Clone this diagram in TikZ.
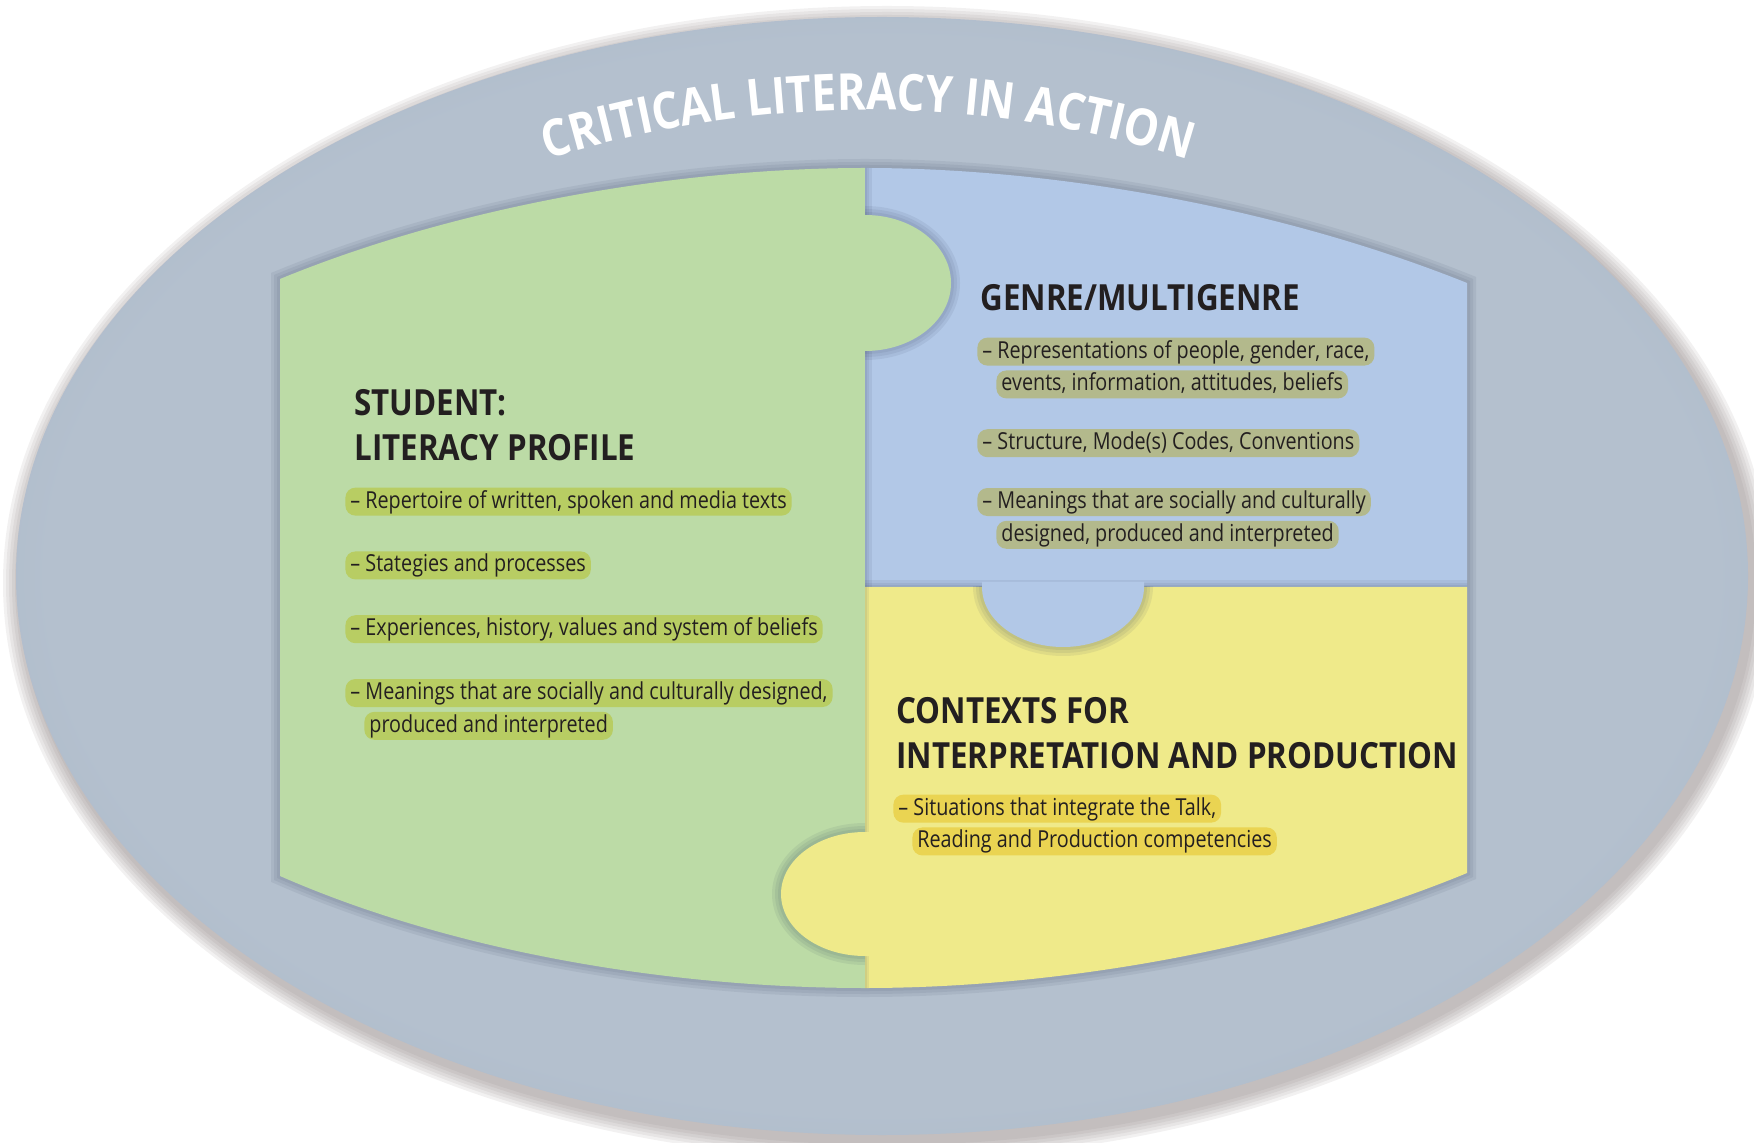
\documentclass[tikz,border=0pt]{standalone}
\usepackage{fontspec}
\setmainfont{Open Sans}[FakeStretch=0.845]
\newfontfamily\headfont{Open Sans}[FakeStretch=0.87]
\newfontfamily\titlefont{Open Sans}[FakeStretch=0.86]
\usetikzlibrary{positioning,decorations.text}

\definecolor{ink}{HTML}{231F20}
\definecolor{ellLight}{HTML}{B4C0CE}
\definecolor{ellDark}{HTML}{99AABF}
\definecolor{rimShadow}{HTML}{6E6262}
\definecolor{pieceShadow}{HTML}{3F4D63}
\definecolor{greenBody}{HTML}{BCDBA6}
\definecolor{greenMark}{HTML}{B8CD63}
\definecolor{blueBody}{HTML}{B2C8E7}
\definecolor{blueMark}{HTML}{B3B98C}
\definecolor{yellowBody}{HTML}{EFEA8A}
\definecolor{yellowMark}{HTML}{EAD452}

\pgfdeclareradialshading{ringshade}{\pgfpoint{0bp}{0bp}}{%
  color(0bp)=(ellLight); color(24bp)=(ellLight); color(38bp)=(ellDark); color(50bp)=(ellDark)}

% outline of the three pieces together
\newcommand{\puzzleoutline}{(280,279) .. controls (460,205) and (680,168) .. (865,168)
  .. controls (1055,168) and (1280,208) .. (1467,283) -- (1467,873)
  .. controls (1280,950) and (1055,988) .. (865,988)
  .. controls (680,988) and (460,955) .. (280,876) -- cycle}
\newcommand{\bluebody}{(865,168) .. controls (1055,168) and (1280,208) .. (1467,283)
  -- (1467,587) -- (865,587) -- cycle}
\newcommand{\yellowbody}{(865,587) -- (1467,587) -- (1467,873)
  .. controls (1280,950) and (1055,988) .. (865,988) -- cycle}
\newcommand{\knobgreen}{(860,215) -- (865,215) arc[start angle=-90, end angle=90, x radius=86, y radius=68] -- (860,351) -- cycle}
\newcommand{\knobblue}{(982,582) -- (982,587) arc[start angle=180, end angle=0, x radius=81, y radius=60] -- (1144,582) -- cycle}
\newcommand{\knobyellow}{(870,832) -- (865,832) arc[start angle=-90, end angle=-270, x radius=84, y radius=62] -- (870,956) -- cycle}

\begin{document}
\begin{tikzpicture}[
  x=0.5pt, y=-0.5pt,
  font=\fontsize{11.7}{14}\selectfont,
  heading/.style={anchor=north west, inner sep=0pt, align=left, text=ink,
                  font=\headfont\bfseries\fontsize{18}{22.5}\selectfont},
  hilite/.style={fill=#1, rounded corners=5pt, inner xsep=2.5pt, inner ysep=1.2pt,
                 text height=9pt, text depth=2.6pt, text=ink},
  softshadow/.style={draw=pieceShadow, line width=#1, opacity=0.09},
  rimglow/.style={fill=rimShadow, opacity=0.085}
]
\useasboundingbox (0,0) rectangle (1754,1143);

% ===== outer ring =====
\foreach \r in {3,6,...,18}
  \fill[rimglow] (887,583) ellipse [x radius={866+\r}, y radius={559+\r}];
\shade[shading=ringshade] (882,576) ellipse [x radius=866, y radius=559];

\path[decorate, decoration={text along path, text align=center, text color=white,
  text={|\titlefont\bfseries\fontsize{25.5}{25.5}\selectfont|CRITICAL LITERACY IN ACTION}}]
  (868,1171) ++(-107.8:1061) arc[start angle=-107.8, end angle=-72.2, radius=1061];

% ===== puzzle pieces =====
\foreach \w in {9pt,6pt,3pt}
  \draw[softshadow=\w] \puzzleoutline;

\fill[greenBody] (280,279) .. controls (460,205) and (680,168) .. (865,168) -- (865,988)
  .. controls (680,988) and (460,955) .. (280,876) -- cycle;
\fill[blueBody] \bluebody;
\fill[yellowBody] \yellowbody;

% seams
\begin{scope}
  \clip \bluebody;
  \foreach \w in {7pt,4pt,2pt} {
    \draw[softshadow=\w] (865,150) -- (865,600);
    \draw[softshadow=\w] (850,587) -- (1480,587);
  }
\end{scope}
\begin{scope}
  \clip \yellowbody;
  \foreach \w in {4pt,2pt} \draw[softshadow=\w] (865,587) -- (865,1000);
\end{scope}

% knobs
\begin{scope}
  \clip (865,150) rectangle (1000,420);
  \foreach \w in {9pt,6pt,3pt} \draw[softshadow=\w] \knobgreen;
\end{scope}
\fill[greenBody] \knobgreen;
\begin{scope}
  \clip (950,587) rectangle (1180,700);
  \foreach \w in {9pt,6pt,3pt} \draw[softshadow=\w] \knobblue;
\end{scope}
\fill[blueBody] \knobblue;
\begin{scope}
  \clip (740,800) rectangle (865,1000);
  \foreach \w in {9pt,6pt,3pt} \draw[softshadow=\w] \knobyellow;
\end{scope}
\fill[yellowBody] \knobyellow;

% ===== student =====
\node[heading] (stuHead) at (354,389) {STUDENT:\\LITERACY PROFILE};
\node[hilite=greenMark, below right=13pt and -4.5pt of stuHead.south west] (stuA)
  {-- Repertoire of written, spoken and media texts};
\node[hilite=greenMark, below right=17.5pt and 0pt of stuA.south west] (stuB)
  {-- Stategies and processes};
\node[hilite=greenMark, below right=17.5pt and 0pt of stuB.south west] (stuC)
  {-- Experiences, history, values and system of beliefs};
\node[hilite=greenMark, below right=17.5pt and 0pt of stuC.south west] (stuD1)
  {-- Meanings that are socially and culturally designed,};
\node[hilite=greenMark, below right=2pt and 9.5pt of stuD1.south west] (stuD2)
  {produced and interpreted};

% ===== genre =====
\node[heading] (genHead) at (980,284) {GENRE/MULTIGENRE};
\node[hilite=blueMark, below right=13pt and -1.5pt of genHead.south west] (genA1)
  {-- Representations of people, gender, race,};
\node[hilite=blueMark, below right=2pt and 9.5pt of genA1.south west] (genA2)
  {events, information, attitudes, beliefs};
\node[hilite=blueMark, below right=15pt and -9.5pt of genA2.south west] (genB)
  {-- Structure, Mode(s) Codes, Conventions};
\node[hilite=blueMark, below right=15pt and 0pt of genB.south west] (genC1)
  {-- Meanings that are socially and culturally};
\node[hilite=blueMark, below right=2pt and 9.5pt of genC1.south west] (genC2)
  {designed, produced and interpreted};

% ===== contexts =====
\node[heading] (ctxHead) at (896,697) {CONTEXTS FOR\\INTERPRETATION AND PRODUCTION};
\node[hilite=yellowMark, below right=12.5pt and -1.5pt of ctxHead.south west] (ctxA1)
  {-- Situations that integrate the Talk,};
\node[hilite=yellowMark, below right=2pt and 9.5pt of ctxA1.south west] (ctxA2)
  {Reading and Production competencies};

\end{tikzpicture}
\end{document}
